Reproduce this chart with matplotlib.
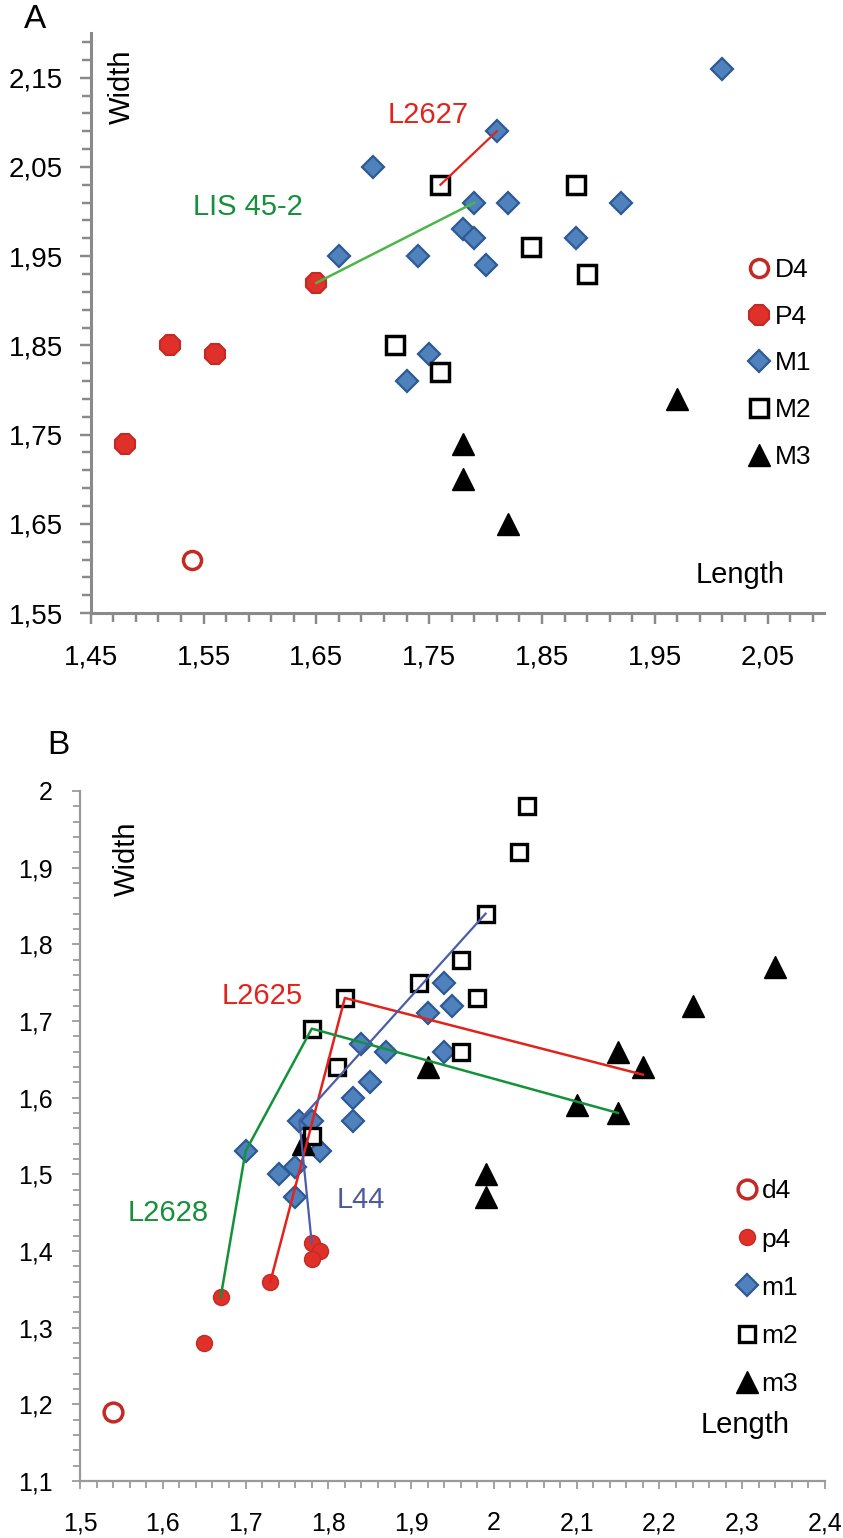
import matplotlib
matplotlib.use("Agg")
import matplotlib.pyplot as plt
from matplotlib.lines import Line2D
import numpy as np

# ---- panel A (upper teeth): length / width ----
a_d4_len = [1.54]
a_d4_wid = [1.61]
a_p4_len = [1.48, 1.52, 1.56, 1.65]
a_p4_wid = [1.74, 1.85, 1.84, 1.92]
a_m1_len = [2.01, 1.81, 1.70, 1.79, 1.82, 1.92, 1.78, 1.79, 1.88, 1.67, 1.74, 1.80, 1.75, 1.73]
a_m1_wid = [2.16, 2.09, 2.05, 2.01, 2.01, 2.01, 1.98, 1.97, 1.97, 1.95, 1.95, 1.94, 1.84, 1.81]
a_m2_len = [1.76, 1.88, 1.84, 1.89, 1.72, 1.76]
a_m2_wid = [2.03, 2.03, 1.96, 1.93, 1.85, 1.82]
a_m3_len = [1.97, 1.78, 1.78, 1.82]
a_m3_wid = [1.79, 1.74, 1.70, 1.65]

# individuals joined by lines
a_l2627_len = [1.76, 1.81]
a_l2627_wid = [2.03, 2.09]
a_lis_len = [1.65, 1.79]
a_lis_wid = [1.92, 2.01]

a_xticks = [1.45, 1.55, 1.65, 1.75, 1.85, 1.95, 2.05]
a_xticklabels = ["1,45", "1,55", "1,65", "1,75", "1,85", "1,95", "2,05"]
a_yticks = [1.55, 1.65, 1.75, 1.85, 1.95, 2.05, 2.15]
a_yticklabels = ["1,55", "1,65", "1,75", "1,85", "1,95", "2,05", "2,15"]
a_labels = ["D4", "P4", "M1", "M2", "M3"]

# ---- panel B (lower teeth) ----
b_d4_len = [1.54]
b_d4_wid = [1.19]
b_p4_len = [1.65, 1.67, 1.73, 1.78, 1.79, 1.78]
b_p4_wid = [1.28, 1.34, 1.36, 1.41, 1.40, 1.39]
b_m1_len = [1.94, 1.95, 1.92, 1.84, 1.87, 1.94, 1.85, 1.83, 1.83, 1.765, 1.78, 1.70, 1.79, 1.76, 1.74, 1.76]
b_m1_wid = [1.75, 1.72, 1.71, 1.67, 1.66, 1.66, 1.62, 1.60, 1.57, 1.57, 1.57, 1.53, 1.53, 1.51, 1.50, 1.47]
b_m2_len = [2.04, 2.03, 1.99, 1.96, 1.91, 1.82, 1.98, 1.78, 1.96, 1.81, 1.78]
b_m2_wid = [1.98, 1.92, 1.84, 1.78, 1.75, 1.73, 1.73, 1.69, 1.66, 1.64, 1.55]
b_m3_len = [2.34, 2.24, 2.15, 2.18, 1.92, 2.10, 2.15, 1.77, 1.99, 1.99]
b_m3_wid = [1.77, 1.72, 1.66, 1.64, 1.64, 1.59, 1.58, 1.54, 1.50, 1.47]

b_l2625_len = [1.73, 1.82, 2.18]
b_l2625_wid = [1.36, 1.73, 1.63]
b_l2628_len = [1.67, 1.70, 1.78, 2.15]
b_l2628_wid = [1.34, 1.53, 1.69, 1.58]
b_l44_len = [1.78, 1.765, 1.99]
b_l44_wid = [1.41, 1.57, 1.84]

b_xticks = [1.5, 1.6, 1.7, 1.8, 1.9, 2.0, 2.1, 2.2, 2.3, 2.4]
b_xticklabels = ["1,5", "1,6", "1,7", "1,8", "1,9", "2", "2,1", "2,2", "2,3", "2,4"]
b_yticks = [1.1, 1.2, 1.3, 1.4, 1.5, 1.6, 1.7, 1.8, 1.9, 2.0]
b_yticklabels = ["1,1", "1,2", "1,3", "1,4", "1,5", "1,6", "1,7", "1,8", "1,9", "2"]
b_labels = ["d4", "p4", "m1", "m2", "m3"]

RED = "#e0302a"
RED_EDGE = "#c42a25"
BLUE = "#4f81bd"
BLUE_EDGE = "#2c5a92"
FONT = ["Liberation Sans", "DejaVu Sans"]

fig = plt.figure(figsize=(8.43, 15.38), dpi=100)


def style_axes(ax, xlim, ylim, xt, xtl, yt, ytl, step, spine_lw, tick_fs, xpad, ypad, col, tlen):
    ax.set_xlim(*xlim)
    ax.set_ylim(*ylim)
    for s in ["top", "right"]:
        ax.spines[s].set_visible(False)
    for s in ["left", "bottom"]:
        ax.spines[s].set_color(col)
        ax.spines[s].set_linewidth(spine_lw)
    ax.set_xticks(xt)
    ax.set_xticklabels(xtl, fontsize=tick_fs, family=FONT)
    ax.set_yticks(yt)
    ax.set_yticklabels(ytl, fontsize=tick_fs, family=FONT)
    ax.set_xticks(np.arange(xlim[0], xlim[1] - 1e-6, step), minor=True)
    ax.set_yticks(np.arange(ylim[0], ylim[1] - 1e-6, step), minor=True)
    ax.tick_params(which="major", direction="out", length=tlen[0], width=spine_lw * 0.8, color=col)
    ax.tick_params(which="minor", direction="out", length=tlen[1], width=spine_lw * 0.8, color=col)
    ax.tick_params(axis="x", which="major", pad=xpad)
    ax.tick_params(axis="y", which="major", pad=ypad)
    ax.patch.set_visible(False)


# ================= panel A =================
axA = fig.add_axes([0.1076, 0.6014, 0.8699, 0.3771])
style_axes(axA, (1.45, 2.10), (1.55, 2.20), a_xticks, a_xticklabels, a_yticks, a_yticklabels,
           0.02, 2.2, 20, 14.5, 12, "#8a8a8a", (8, 6.5))

axA.plot(a_d4_len, a_d4_wid, "o", ms=13, mfc="white", mec=RED_EDGE, mew=2.5, ls="none", zorder=3)
axA.plot(a_p4_len, a_p4_wid, "8", ms=16, mfc=RED, mec=RED_EDGE, mew=1.5, ls="none", zorder=3)
axA.plot(a_m1_len, a_m1_wid, "D", ms=11.5, mfc=BLUE, mec=BLUE_EDGE, mew=1.6, ls="none", zorder=3)
axA.plot(a_m2_len, a_m2_wid, "s", ms=13.5, mfc="white", mec="black", mew=2.5, ls="none", zorder=3)
axA.plot(a_m3_len, a_m3_wid, "^", ms=16, color="black", ls="none", zorder=3)

axA.plot(a_l2627_len, a_l2627_wid, color="#e3231b", lw=1.6, zorder=4)
axA.plot(a_lis_len, a_lis_wid, color="#4cb648", lw=1.8, zorder=4)

axA.text(1.749, 2.108, "L2627", color="#e3231b", fontsize=21, family=FONT, ha="center", va="center")
axA.text(1.589, 2.005, "LIS 45-2", color="#16903c", fontsize=21, family=FONT, ha="center", va="center")
axA.text(1.478, 2.140, "Width", fontsize=21, family=FONT, rotation=90, ha="center", va="center")
axA.text(2.026, 1.593, "Length", fontsize=21, family=FONT, ha="center", va="center")
fig.text(35 / 843, 1 - 20 / 1538, "A", fontsize=24, family=FONT, ha="center", va="center")

handlesA = [
    Line2D([], [], marker="o", ms=13, mfc="white", mec=RED_EDGE, mew=2.5, ls="none"),
    Line2D([], [], marker="8", ms=16, mfc=RED, mec=RED_EDGE, mew=1.5, ls="none"),
    Line2D([], [], marker="D", ms=11.5, mfc=BLUE, mec=BLUE_EDGE, mew=1.6, ls="none"),
    Line2D([], [], marker="s", ms=13.5, mfc="white", mec="black", mew=2.5, ls="none"),
    Line2D([], [], marker="^", ms=16, color="black", ls="none"),
]
axA.legend(handlesA, a_labels, loc="upper left", bbox_to_anchor=(0.899, 0.612), frameon=False,
           handlelength=0.7, handletextpad=0.25, labelspacing=0.86, borderpad=0, borderaxespad=0,
           prop={"family": FONT, "size": 19})

# ================= panel B =================
axB = fig.add_axes([0.0949, 0.0371, 0.8837, 0.4486])
style_axes(axB, (1.5, 2.4), (1.1, 2.0), b_xticks, b_xticklabels, b_yticks, b_yticklabels,
           0.02, 1.6, 18, 16.5, 14, "#9a9a9a", (5.5, 5))

axB.plot(b_d4_len, b_d4_wid, "o", ms=13.5, mfc="white", mec=RED_EDGE, mew=2.5, ls="none", zorder=3)
axB.plot(b_p4_len, b_p4_wid, "o", ms=11.5, mfc=RED, mec=RED_EDGE, mew=1.0, ls="none", zorder=3)
axB.plot(b_m1_len, b_m1_wid, "D", ms=11, mfc=BLUE, mec=BLUE_EDGE, mew=1.6, ls="none", zorder=3)
axB.plot(b_m2_len, b_m2_wid, "s", ms=11.5, mfc="white", mec="black", mew=2.4, ls="none", zorder=3)
axB.plot(b_m3_len, b_m3_wid, "^", ms=16, color="black", ls="none", zorder=3)

axB.plot(b_l2625_len, b_l2625_wid, color="#e3231b", lw=1.8, zorder=4)
axB.plot(b_l2628_len, b_l2628_wid, color="#13923a", lw=1.8, zorder=4)
axB.plot(b_l44_len, b_l44_wid, color="#4a5ea8", lw=1.6, zorder=4)

axB.text(1.720, 1.732, "L2625", color="#e3231b", fontsize=21, family=FONT, ha="center", va="center")
axB.text(1.607, 1.449, "L2628", color="#16903c", fontsize=21, family=FONT, ha="center", va="center")
axB.text(1.839, 1.466, "L44", color="#4d5a9c", fontsize=21, family=FONT, ha="center", va="center")
axB.text(1.557, 1.912, "Width", fontsize=21, family=FONT, rotation=90, ha="center", va="center")
axB.text(2.304, 1.173, "Length", fontsize=21, family=FONT, ha="center", va="center")
fig.text(58 / 843, 1 - 745 / 1538, "B", fontsize=24, family=FONT, ha="center", va="center")

handlesB = [
    Line2D([], [], marker="o", ms=13.5, mfc="white", mec=RED_EDGE, mew=2.5, ls="none"),
    Line2D([], [], marker="o", ms=11.5, mfc=RED, mec=RED_EDGE, mew=1.0, ls="none"),
    Line2D([], [], marker="D", ms=11, mfc=BLUE, mec=BLUE_EDGE, mew=1.6, ls="none"),
    Line2D([], [], marker="s", ms=11.5, mfc="white", mec="black", mew=2.4, ls="none"),
    Line2D([], [], marker="^", ms=16, color="black", ls="none"),
]
axB.legend(handlesB, b_labels, loc="upper left", bbox_to_anchor=(0.883, 0.437), frameon=False,
           handlelength=0.7, handletextpad=0.2, labelspacing=0.915, borderpad=0, borderaxespad=0,
           prop={"family": FONT, "size": 19})

fig.savefig("out.png", dpi=100)
